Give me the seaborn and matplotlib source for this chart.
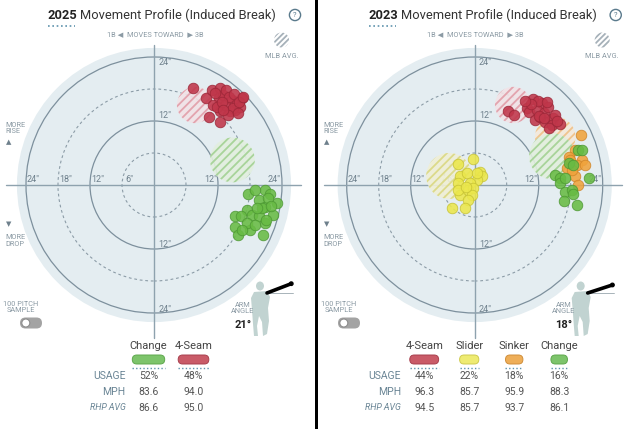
import numpy as np
import pandas as pd
import matplotlib
matplotlib.use("Agg")
import matplotlib.pyplot as plt
import seaborn as sns
from matplotlib.patches import Circle, FancyBboxPatch, Polygon, Ellipse

sns.set_theme(style="white")
plt.rcParams['font.family'] = ['Roboto', 'DejaVu Sans']
plt.rcParams['hatch.linewidth'] = 1.3

# ---------------- data (inches of induced break) ----------------
# 2025
fs25_x = [7.4, 9.8, 10.8, 12.4, 12.1, 13.0, 14.6, 15.5, 16.5, 15.2, 14.3, 12.4, 11.1, 10.4, 12.4, 13.3,
          16.1, 11.8, 13.5, 14.0, 15.0, 12.8, 14.8, 13.8, 11.5, 16.0, 15.8, 13.0, 16.7]
fs25_y = [18.1, 16.3, 17.8, 18.1, 16.3, 16.9, 15.9, 15.6, 16.4, 14.1, 13.8, 13.8, 15.0, 12.8, 11.8, 15.0,
          14.7, 14.7, 17.8, 16.5, 17.0, 15.5, 14.5, 13.2, 17.2, 15.5, 13.5, 14.0, 16.5]
ch25_x = [20.8, 17.7, 19.6, 21.8, 23.0, 20.8, 22.4, 17.4, 15.2, 16.4, 18.3, 19.6, 20.8, 15.2, 15.8, 18.0,
          20.5, 17.4, 18.9, 20.2, 21.4, 19.0, 22.0, 21.0, 16.5, 19.3]
ch25_y = [-0.9, -1.6, -2.8, -1.6, -3.4, -4.1, -5.6, -4.7, -5.9, -5.9, -5.6, -5.9, -7.2, -7.8, -9.4, -8.4,
          -9.4, -7.2, -7.5, -4.4, -2.5, -1.0, -4.0, -6.5, -8.5, -4.3]
# 2023
fs23_x = [6.3, 7.4, 10.9, 12.6, 9.8, 10.2, 11.6, 12.9, 13.8, 11.3, 13.2, 14.7, 14.4, 16.0, 14.0, 12.3,
          15.1, 11.8, 13.5, 10.5, 12.0, 13.0, 15.5, 9.5]
fs23_y = [13.8, 13.1, 16.1, 15.4, 14.4, 13.6, 14.1, 13.5, 14.7, 12.2, 11.9, 12.5, 11.3, 11.4, 10.6, 12.8,
          13.1, 15.8, 15.5, 15.2, 13.0, 12.6, 12.0, 15.8]
sl23_x = [-3.1, -0.3, -2.8, -1.4, 1.0, 1.3, 0.4, -3.1, -0.9, -2.8, -1.2, -0.3, -0.6, -1.2, -4.3, -1.8,
          -3.1, 0.4, -1.6]
sl23_y = [3.9, 4.8, 1.6, 2.3, 2.5, 1.6, 0.9, 0.3, 0.3, -1.9, -0.9, -0.6, -1.9, -2.8, -4.4, -4.4,
          -0.9, 2.2, -0.3]
si23_x = [19.9, 18.8, 17.6, 20.1, 19.1, 20.6, 17.3, 18.8, 19.4, 17.9, 18.3]
si23_y = [9.4, 6.6, 5.3, 4.7, 3.8, 3.8, 3.1, 1.6, 0.0, 4.7, 2.8]
ch23_x = [19.4, 20.1, 17.6, 18.5, 15.1, 16.0, 16.0, 16.9, 21.4, 16.9, 18.2, 18.5, 16.8, 19.2]
ch23_y = [6.6, 6.6, 4.1, 3.8, 1.9, 1.3, 0.3, 1.3, 1.4, -1.3, -0.9, -1.6, -3.0, -3.8]

# MLB averages (x, y, radius)
mlb25_pitch = ['4-Seam', 'Change']
mlb25_x = [7.7, 14.7]
mlb25_y = [15.0, 4.7]
mlb25_r = [3.4, 4.2]
mlb23_pitch = ['4-Seam', 'Slider', 'Sinker', 'Change']
mlb23_x = [7.2, -4.8, 15.1, 14.5]
mlb23_y = [15.0, 1.7, 9.0, 5.4]
mlb23_r = [3.4, 4.3, 3.8, 4.3]

# table
tab25_names = ['Change', '4-Seam']
tab25_usage = [52, 48]
tab25_mph = [83.6, 94.0]
tab25_rhp = [86.6, 95.0]
tab23_names = ['4-Seam', 'Slider', 'Sinker', 'Change']
tab23_usage = [44, 22, 18, 16]
tab23_mph = [96.3, 85.7, 95.9, 88.3]
tab23_rhp = [94.5, 85.7, 93.7, 86.1]

years = ['2025', '2023']
arm_angles = [21, 18]
ring_values = [6, 12, 18, 24]

# ---------------- styles ----------------
DOT = {'4-Seam': ('#c0364a', '#9a2637'), 'Change': ('#68bb44', '#4c9733'),
       'Slider': ('#ebe74c', '#c6c235'), 'Sinker': ('#f0a33c', '#cf8428')}
PILL = {'4-Seam': ('#c95b68', '#a8404e'), 'Change': ('#7dc46b', '#5fa84e'),
        'Slider': ('#eeeb72', '#cfcb4f'), 'Sinker': ('#eeae58', '#d08f3c')}
HATCH = {'4-Seam': ('#f2e2e6', '#e3a4ae'), 'Change': ('#e2efdf', '#a8d49a'),
         'Slider': ('#f0efd6', '#dcda8a'), 'Sinker': ('#f5e9da', '#f0c48e')}

W, H = 636, 429
S = 128 / 24.0
CY = 185
LBL = '#8b9aa4'
TXT = '#555555'
ROWC = '#6a8595'

fig = plt.figure(figsize=(6.36, 4.29), dpi=100)
fig.patch.set_facecolor('white')


def panel(x0, w, cx, pts, mlb):
    ax = fig.add_axes([x0 / W, 0, w / W, 1])
    ax.set_xlim((x0 - cx) / S, (x0 + w - cx) / S)
    ax.set_ylim((CY - H) / S, CY / S)
    ax.add_patch(Circle((0, 0), 25.7, fc='#e4edf1', ec='none', zorder=0))
    for r in ring_values:
        if r % 12 == 0:
            ax.add_patch(Circle((0, 0), r, fill=False, ec='#7d909d', lw=0.9, zorder=1))
        else:
            ax.add_patch(Circle((0, 0), r, fill=False, ec='#8c9ca7', lw=0.8,
                                ls=(0, (2.5, 2.5)), zorder=1))
    ax.plot([0, 0], [(CY - 45) / S, (CY - 338) / S], color='#8ea2ae', lw=1.0, zorder=1)
    ax.plot([(x0 + 6 - cx) / S, (x0 + w - 14 - cx) / S], [0, 0], color='#8ea2ae', lw=1.0, zorder=1)
    # ring labels
    for r in [24, 18, 12, 6]:
        ax.text(-r + 1.4, 1.0, f'{r}"', fontsize=6.5, color='#6e808c', ha='center', va='center', zorder=2)
    for r in [12, 24]:
        ax.text(r - 1.4, 1.0, f'{r}"', fontsize=6.5, color='#6e808c', ha='center', va='center', zorder=2)
    for r, yy in [(24, 22.9), (12, 13.1), (-12, -11.1), (-24, -23.3)]:
        ax.text(2.0, yy, f'{abs(r)}"', fontsize=6.5, color='#6e808c', ha='center', va='center', zorder=2)
    # MLB averages
    for p, mx, my, mr in zip(*mlb):
        fc, hc = HATCH[p]
        ax.add_patch(Circle((mx, my), mr, fc=fc, ec='none', alpha=0.9, zorder=2))
        ax.add_patch(Circle((mx, my), mr, fc='none', ec=hc, lw=0, hatch='////', zorder=2))
    # pitches
    for p, xs, ys in pts:
        df = pd.DataFrame({'x': xs, 'y': ys, 'pitch': p})
        fc, ec = DOT[p]
        sns.scatterplot(data=df, x='x', y='y', color=fc, edgecolor=ec, linewidth=0.6,
                        s=58, alpha=0.88, legend=False, ax=ax, zorder=3)
    ax.set_xlim((x0 - cx) / S, (x0 + w - cx) / S)
    ax.set_ylim((CY - H) / S, CY / S)
    ax.axis('off')
    return ax


panel(0, 315, 154, [('4-Seam', fs25_x, fs25_y), ('Change', ch25_x, ch25_y)],
      (mlb25_pitch, mlb25_x, mlb25_y, mlb25_r))
panel(318, 318, 474.7, [('4-Seam', fs23_x, fs23_y), ('Slider', sl23_x, sl23_y),
                        ('Sinker', si23_x, si23_y), ('Change', ch23_x, ch23_y)],
      (mlb23_pitch, mlb23_x, mlb23_y, mlb23_r))

# ---------------- overlay (pixel coordinates) ----------------
ov = fig.add_axes([0, 0, 1, 1], zorder=10)
ov.set_xlim(0, W)
ov.set_ylim(H, 0)
ov.axis('off')
ov.patch.set_alpha(0)

ov.add_patch(plt.Rectangle((315, 0), 3.2, H, fc='black', ec='none'))


def decorate(x0, cx, year, angle, names, usage, mph, rhp):
    # title
    ov.text(cx - 106, 15.5, year, fontsize=9.3, fontweight='bold', color='#222222', ha='left', va='center')
    ov.text(cx - 73.5, 15.5, 'Movement Profile (Induced Break)', fontsize=9.3, color='#333333',
            ha='left', va='center')
    ov.plot([cx - 106, cx - 79], [25.5, 25.5], color='#5f93ad', lw=1.2, ls=(0, (1, 1.6)))
    # help icon
    ov.add_patch(Circle((cx + 141, 15), 5.6, fc='white', ec='#5a7a8c', lw=1.0))
    ov.text(cx + 141, 15.3, '?', fontsize=5.5, color='#5a7a8c', ha='center', va='center')
    # moves toward
    ov.text(cx + 1, 35, '1B ◀  MOVES TOWARD  ▶ 3B', fontsize=5.3, color=LBL, ha='center', va='center')
    # MLB avg legend
    ov.add_patch(Circle((cx + 127.5, 40), 7.5, fc='none', ec='#a6b1b9', lw=0, hatch='//////'))
    ov.text(cx + 127.5, 57, 'MLB AVG.', fontsize=5.3, color=LBL, ha='center', va='center')
    # rise/drop
    ov.text(x0 + 5, 128.5, 'MORE\nRISE', fontsize=5.3, color=LBL, ha='left', va='center', linespacing=0.95)
    ov.text(x0 + 9, 143, '▲', fontsize=5, color='#6e808c', ha='center', va='center')
    ov.text(x0 + 9, 224.5, '▼', fontsize=5, color='#6e808c', ha='center', va='center')
    ov.text(x0 + 5, 241, 'MORE\nDROP', fontsize=5.3, color=LBL, ha='left', va='center', linespacing=0.95)
    # sample toggle
    ov.text(x0 + 21, 307.5, '100 PITCH\nSAMPLE', fontsize=5.3, color=LBL, ha='center', va='center',
            linespacing=0.95)
    ov.add_patch(FancyBboxPatch((x0 + 20, 317.5), 22, 11, boxstyle='round,pad=0,rounding_size=5.5',
                                fc='#a3a3a3', ec='none'))
    ov.add_patch(Circle((x0 + 25.8, 323), 4.0, fc='white', ec='#8d8d8d', lw=0.8))
    # arm angle figure
    hx, hy = cx + 106, 286
    body = [(-6, 6), (7, 5), (10, 11), (8, 22), (9, 35), (7, 48), (3, 50), (2, 36), (-1, 30),
            (-3, 40), (-2, 50), (-6, 50), (-7, 38), (-8, 24), (-9, 12)]
    ov.add_patch(Polygon([(hx + a, hy + b) for a, b in body], closed=True, fc='#b7ccc9', ec='none', alpha=0.85))
    ov.add_patch(Ellipse((hx, hy), 8, 9, fc='#b7ccc9', ec='none', alpha=0.85))
    sx, sy = hx + 7, hy + 7
    L = 26
    ex, ey = sx + L * np.cos(np.radians(angle)), sy - L * np.sin(np.radians(angle))
    ov.plot([sx, sx + L], [sy, sy], color='#9aa7ae', lw=0.6)
    ov.plot([sx, ex], [sy, ey], color='black', lw=2.6, solid_capstyle='round')
    ov.add_patch(Circle((ex, ey), 1.8, fc='white', ec='black', lw=0.9))
    ov.text(cx + 89, 308.5, 'ARM\nANGLE', fontsize=5.3, color=LBL, ha='center', va='center', linespacing=0.95)
    ov.text(cx + 89, 325, f'{angle}°', fontsize=8, fontweight='bold', color='#222222', ha='center', va='center')
    # table
    n = len(names)
    cols = [cx + 17 + 45 * (i - (n - 1) / 2) for i in range(n)]
    lx = cols[0] - 23
    ov.text(lx, 376, 'USAGE', fontsize=7.5, color=ROWC, ha='right', va='center')
    ov.text(lx, 392, 'MPH', fontsize=7.5, color=ROWC, ha='right', va='center')
    ov.text(lx, 408, 'RHP AVG', fontsize=6.4, color=ROWC, ha='right', va='center', style='italic')
    for c, nm, u, m, r in zip(cols, names, usage, mph, rhp):
        ov.text(c, 346, nm, fontsize=8, color='#444444', ha='center', va='center')
        pw = 9.5 + 0.44 * u
        fc, ec = PILL[nm]
        ov.add_patch(FancyBboxPatch((c - pw / 2, 355), pw, 9, boxstyle='round,pad=0,rounding_size=4.5',
                                    fc=fc, ec=ec, lw=0.7))
        ov.plot([c - pw / 2, c + pw / 2], [367.5, 367.5], color='#5f93ad', lw=1.0, ls=(0, (1, 1.6)))
        ov.text(c, 376, f'{u}%', fontsize=7.5, color=TXT, ha='center', va='center')
        ov.text(c, 392, f'{m:.1f}', fontsize=7.5, color=TXT, ha='center', va='center')
        ov.text(c, 408, f'{r:.1f}', fontsize=7.5, color=TXT, ha='center', va='center')


decorate(0, 154, years[0], arm_angles[0], tab25_names, tab25_usage, tab25_mph, tab25_rhp)
decorate(318, 474.7, years[1], arm_angles[1], tab23_names, tab23_usage, tab23_mph, tab23_rhp)

fig.savefig('out.png', dpi=100, facecolor='white')
